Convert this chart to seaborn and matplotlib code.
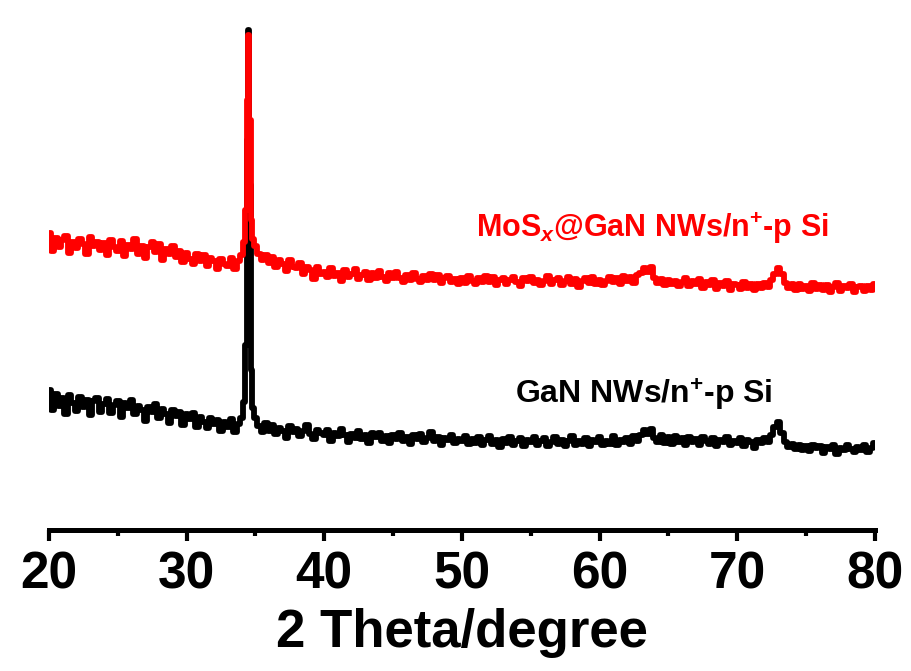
"""XRD patterns of GaN NWs and MoSx@GaN NWs on n+-p Si."""
import numpy as np
import pandas as pd
import matplotlib
matplotlib.use("Agg")
import matplotlib.pyplot as plt
from matplotlib.ticker import MultipleLocator
import seaborn as sns

# 2 theta grid: 0.25 deg steps, denser around the GaN (002) peak
two_theta = np.concatenate([
    np.arange(20.0, 34.0, 0.25),
    [34.0, 34.15, 34.3, 34.4, 34.5, 34.6, 34.7, 34.85],
    np.arange(35.0, 80.01, 0.25),
])

# intensities (a.u.)
gan_low = [
    140, 120, 136, 124, 132, 116, 135, 127, 119, 133, 123, 130,
    115, 129, 132, 118, 126, 131, 117, 125, 129, 113, 127, 122,
    130, 116, 124, 120, 109, 123, 118, 126, 112, 121, 116, 107,
    120, 114, 118, 105, 116, 111, 117, 103, 113, 108, 102, 112,
    106, 110, 99, 108, 103, 111, 98, 106,
]
gan_peak = [112, 128, 185, 390, 500, 345, 160, 122]
gan_high = [
    112, 104, 98, 107,
    99, 105, 96, 102,
    99, 92, 104, 98,
    101, 94, 99, 105,
    96, 91, 100, 97,
    95, 100, 89, 97,
    94, 101, 95, 88,
    96, 92, 99, 91,
    95, 87, 97, 93,
    97, 89, 94, 87,
    95, 91, 97, 89,
    93, 86, 95, 91,
    96, 88, 92, 98,
    89, 93, 85, 92,
    90, 95, 87, 91,
    89, 94, 86, 91,
    87, 93, 85, 90,
    94, 86, 90, 83,
    91, 87, 93, 85,
    89, 92, 84, 90,
    88, 93, 85, 89,
    92, 84, 88, 93,
    86, 90, 84, 89,
    94, 85, 89, 86,
    92, 84, 90, 88,
    93, 85, 89, 86,
    94, 85, 90, 88,
    92, 86, 94, 89,
    95, 100, 96, 101,
    92, 88, 95, 87,
    93, 86, 94, 88,
    92, 85, 93, 88,
    91, 85, 93, 89,
    86, 92, 84, 90,
    88, 93, 85, 89,
    87, 92, 84, 90,
    88, 82, 90, 87,
    92, 88, 95, 103,
    108, 97, 88, 83,
    86, 81, 85, 80,
    84, 79, 85, 82,
    84, 77, 83, 81,
    85, 76, 82, 80,
    85, 81, 78, 83,
    80, 85, 78, 82,
    87,
]

mos_low = [
    297, 279, 292, 283,
    290, 294, 277, 288,
    282, 291, 286, 276,
    293, 284, 288, 280,
    287, 275, 290, 283,
    279, 289, 274, 285,
    281, 291, 276, 284,
    272, 283, 288, 278,
    286, 270, 281, 276,
    284, 273, 279, 268,
    277, 271, 266, 276,
    269, 275, 264, 272,
    269, 261, 271, 266,
    264, 272, 261, 269,
]
mos_peak = [275, 288, 320, 430, 495, 410, 310, 291]
mos_high = [
    284, 276, 270, 275,
    267, 273, 263, 270,
    266, 259, 270, 263,
    262, 267, 256, 263,
    260, 251, 263, 256,
    258, 253, 262, 254,
    257, 249, 260, 253,
    256, 261, 251, 255,
    258, 250, 257, 252,
    259, 253, 249, 257,
    252, 258, 252, 248,
    255, 250, 257, 251,
    248, 254, 250, 256,
    250, 255, 247, 252,
    254, 248, 251, 246,
    252, 247, 254, 249,
    246, 252, 248, 254,
    248, 253, 245, 250,
    252, 246, 250, 253,
    248, 244, 252, 249,
    253, 247, 250, 245,
    249, 254, 246, 250,
    252, 245, 249, 253,
    246, 251, 243, 249,
    252, 247, 253, 246,
    250, 245, 249, 253,
    248, 252, 246, 254,
    249, 253, 247, 255,
    257, 262, 258, 263,
    252, 247, 251, 245,
    250, 246, 249, 244,
    248, 252, 244, 249,
    246, 251, 242, 248,
    245, 250, 241, 247,
    244, 249, 240, 246,
    245, 241, 248, 242,
    246, 240, 246, 242,
    247, 243, 250, 256,
    262, 256, 247, 242,
    246, 240, 246, 241,
    244, 239, 247, 241,
    245, 240, 245, 238,
    243, 247, 239, 244,
    242, 246, 238, 243,
    244, 239, 244, 240,
    246,
]

labels = [r"GaN NWs/n$^{\mathbf{+}}$-p Si", r"MoS$_{x}$@GaN NWs/n$^{\mathbf{+}}$-p Si"]

df = pd.DataFrame({
    "two_theta": np.concatenate([two_theta, two_theta]),
    "intensity": np.array(gan_low + gan_peak + gan_high + mos_low + mos_peak + mos_high),
    "sample": ["GaN"] * len(two_theta) + ["MoSx"] * len(two_theta),
})

sns.set_theme(style="white")
plt.rcParams["font.family"] = ["Liberation Sans", "DejaVu Sans"]
plt.rcParams["font.weight"] = "bold"
plt.rcParams["text.color"] = "black"
plt.rcParams["xtick.color"] = "black"
plt.rcParams["axes.labelcolor"] = "black"
plt.rcParams["mathtext.fontset"] = "custom"
plt.rcParams["mathtext.rm"] = "Liberation Sans:bold"
plt.rcParams["mathtext.bf"] = "Liberation Sans:bold"
plt.rcParams["mathtext.it"] = "Liberation Sans:bold:italic"

fig = plt.figure(figsize=(9.12, 6.71), dpi=100)
ax = fig.add_axes([0.0537, 0.2101, 0.9057, 0.760])

sns.lineplot(data=df, x="two_theta", y="intensity", hue="sample",
             palette={"GaN": "black", "MoSx": "#ff0000"},
             estimator=None, sort=False, linewidth=4.2, legend=False,
             drawstyle="steps-mid", ax=ax)

ax.text(63.2, 126, labels[0], color="black", fontsize=23, fontweight="bold",
        ha="center", va="baseline")
ax.text(63.8, 293, labels[1], color="#ff0000", fontsize=22, fontweight="bold",
        ha="center", va="baseline")

ax.set_xlim(20, 80)
ax.set_ylim(0, 510)
ax.set_yticks([])
for side in ["top", "right", "left"]:
    ax.spines[side].set_visible(False)
ax.spines["bottom"].set_linewidth(3.6)
ax.spines["bottom"].set_color("black")
ax.xaxis.set_major_locator(MultipleLocator(10))
ax.xaxis.set_minor_locator(MultipleLocator(5))
ax.tick_params(axis="x", which="major", bottom=True, direction="out",
               length=8, width=3, color="black", labelcolor="black", pad=7)
ax.tick_params(axis="x", which="minor", bottom=True, direction="out",
               length=4.5, width=3, color="black")
for lab in ax.get_xticklabels():
    lab.set_fontsize(37)
    lab.set_fontweight("bold")
ax.set_xlabel("2 Theta/degree", fontsize=38, fontweight="bold",
              color="black", labelpad=6)
ax.set_ylabel("")

fig.savefig("out.png", dpi=100)
